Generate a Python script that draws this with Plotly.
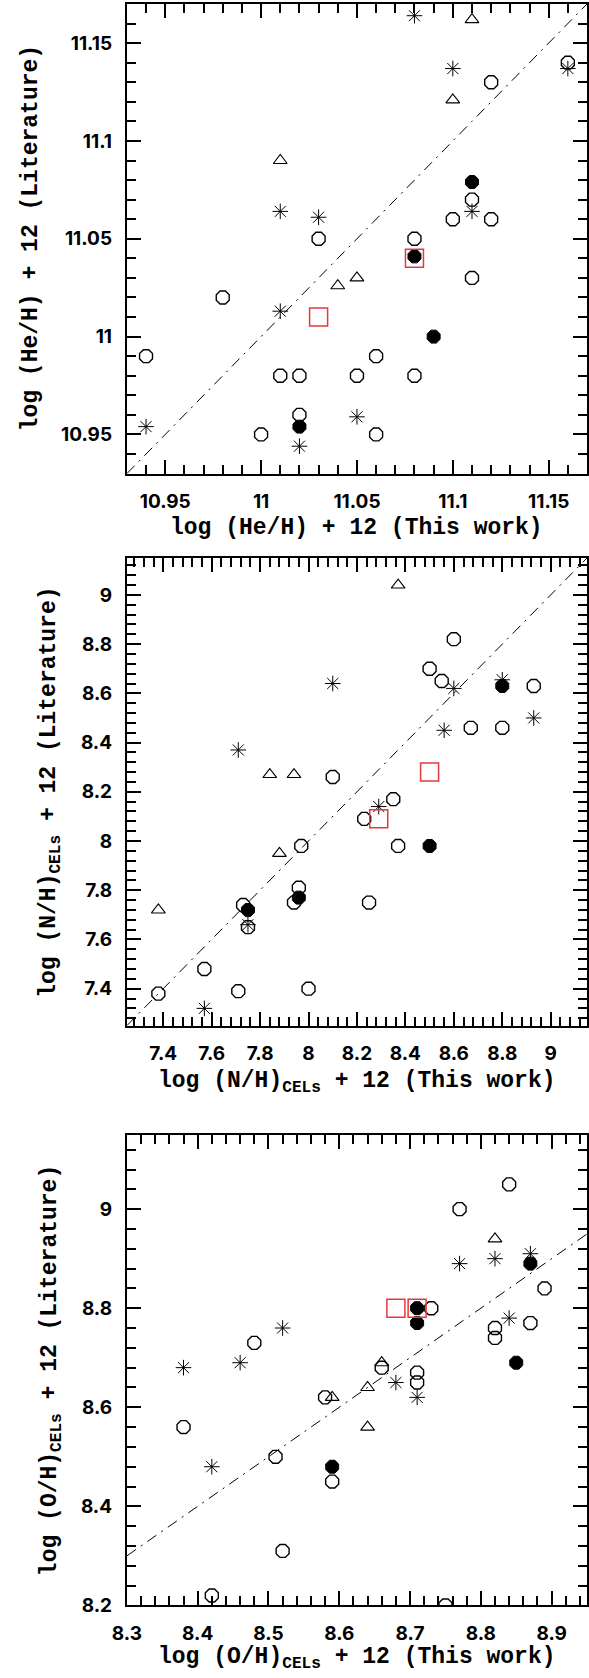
import plotly.graph_objects as go

# ---------------- Panel 1: helium ----------------
he_circle_x = [11.16, 11.12, 11.11, 11.10, 11.12, 11.03, 11.08, 11.11, 10.98, 10.94,
               11.06, 11.01, 11.02, 11.05, 11.08, 11.02, 11.00, 11.06]
he_circle_y = [11.14, 11.13, 11.07, 11.06, 11.06, 11.05, 11.05, 11.03, 11.02, 10.99,
               10.99, 10.98, 10.98, 10.98, 10.98, 10.96, 10.95, 10.95]
he_filled_x = [11.11, 11.08, 11.09, 11.02]
he_filled_y = [11.079, 11.041, 11.00, 10.954]
he_star_x = [11.08, 11.10, 11.16, 11.11, 11.01, 11.03, 11.01, 10.94, 11.05, 11.02]
he_star_y = [11.164, 11.137, 11.137, 11.064, 11.064, 11.061, 11.013, 10.954, 10.959, 10.944]
he_tri_x = [11.11, 11.10, 11.01, 11.04, 11.05]
he_tri_y = [11.162, 11.121, 11.09, 11.026, 11.03]
he_sq_x = [11.08, 11.03]
he_sq_y = [11.04, 11.01]
he_range = [10.93, 11.17]
he_ticks = [10.95, 11.0, 11.05, 11.1, 11.15]
he_ticktext = ["10.95", "11", "11.05", "11.1", "11.15"]

# ---------------- Panel 2: nitrogen ----------------
n_circle_x = [8.60, 8.50, 8.55, 8.93, 8.67, 8.80, 8.10, 8.35, 8.23, 8.37, 7.97,
              7.96, 7.94, 8.25, 7.73, 7.75, 7.57, 7.71, 8.00, 7.38]
n_circle_y = [8.82, 8.70, 8.65, 8.63, 8.46, 8.46, 8.26, 8.17, 8.09, 7.98, 7.98,
              7.81, 7.75, 7.75, 7.74, 7.65, 7.48, 7.39, 7.40, 7.38]
n_filled_x = [8.80, 8.50, 7.96, 7.75]
n_filled_y = [8.63, 7.98, 7.77, 7.72]
n_star_x = [8.60, 8.10, 8.80, 8.93, 8.56, 7.71, 8.29, 7.75, 7.57]
n_star_y = [8.62, 8.64, 8.655, 8.50, 8.45, 8.37, 8.14, 7.66, 7.32]
n_tri_x = [8.37, 7.84, 7.94, 7.88, 7.38]
n_tri_y = [9.04, 8.27, 8.27, 7.95, 7.72]
n_sq_x = [8.50, 8.29]
n_sq_y = [8.28, 8.09]
n_range = [7.25, 9.15]
n_ticks = [7.4, 7.6, 7.8, 8.0, 8.2, 8.4, 8.6, 8.8, 9.0]
n_ticktext = ["7.4", "7.6", "7.8", "8", "8.2", "8.4", "8.6", "8.8", "9"]

# ---------------- Panel 3: oxygen ----------------
o_circle_x = [8.84, 8.77, 8.89, 8.73, 8.87, 8.82, 8.82, 8.48, 8.66, 8.71, 8.71,
              8.58, 8.38, 8.51, 8.59, 8.52, 8.42, 8.75]
o_circle_y = [9.05, 9.00, 8.84, 8.80, 8.77, 8.76, 8.74, 8.73, 8.68, 8.67, 8.65,
              8.62, 8.56, 8.50, 8.45, 8.31, 8.22, 8.20]
o_filled_x = [8.87, 8.71, 8.71, 8.85, 8.59]
o_filled_y = [8.89, 8.80, 8.77, 8.69, 8.48]
o_star_x = [8.87, 8.82, 8.77, 8.84, 8.52, 8.46, 8.38, 8.68, 8.71, 8.42]
o_star_y = [8.91, 8.90, 8.89, 8.78, 8.76, 8.69, 8.68, 8.65, 8.62, 8.48]
o_tri_x = [8.82, 8.66, 8.64, 8.59, 8.64]
o_tri_y = [8.94, 8.69, 8.64, 8.62, 8.56]
o_sq_x = [8.68, 8.71]
o_sq_y = [8.80, 8.80]
o_xrange = [8.3, 8.95]
o_yrange = [8.2, 9.15]
o_xticks = [8.3, 8.4, 8.5, 8.6, 8.7, 8.8, 8.9]
o_xticktext = ["8.3", "8.4", "8.5", "8.6", "8.7", "8.8", "8.9"]
o_yticks = [8.2, 8.4, 8.6, 8.8, 9.0]
o_yticktext = ["8.2", "8.4", "8.6", "8.8", "9"]

W, H = 589, 1678
RED = "#e8383d"

fig = go.Figure()

panels = [
    dict(circ=(he_circle_x, he_circle_y), fill=(he_filled_x, he_filled_y),
         star=(he_star_x, he_star_y), tri=(he_tri_x, he_tri_y), sq=(he_sq_x, he_sq_y),
         diag=he_range),
    dict(circ=(n_circle_x, n_circle_y), fill=(n_filled_x, n_filled_y),
         star=(n_star_x, n_star_y), tri=(n_tri_x, n_tri_y), sq=(n_sq_x, n_sq_y),
         diag=n_range),
    dict(circ=(o_circle_x, o_circle_y), fill=(o_filled_x, o_filled_y),
         star=(o_star_x, o_star_y), tri=(o_tri_x, o_tri_y), sq=(o_sq_x, o_sq_y),
         diag=[max(o_xrange[0], o_yrange[0]), min(o_xrange[1], o_yrange[1])]),
]

for i, p in enumerate(panels):
    xa = "x" if i == 0 else f"x{i + 1}"
    ya = "y" if i == 0 else f"y{i + 1}"
    # 1:1 relation
    fig.add_trace(go.Scatter(x=p["diag"], y=p["diag"], mode="lines",
                             line=dict(color="black", width=1, dash="11px,6px,2px,6px"),
                             xaxis=xa, yaxis=ya, hoverinfo="skip", showlegend=False))
    fig.add_trace(go.Scatter(x=p["circ"][0], y=p["circ"][1], mode="markers",
                             marker=dict(symbol="octagon-open", size=14, color="black",
                                         line=dict(width=1.4, color="black")),
                             xaxis=xa, yaxis=ya, showlegend=False))
    fig.add_trace(go.Scatter(x=p["fill"][0], y=p["fill"][1], mode="markers",
                             marker=dict(symbol="octagon", size=14, color="black",
                                         line=dict(width=1, color="black")),
                             xaxis=xa, yaxis=ya, showlegend=False))
    fig.add_trace(go.Scatter(x=p["star"][0], y=p["star"][1], mode="markers",
                             marker=dict(symbol="asterisk-open", size=13, color="black",
                                         line=dict(width=1, color="black")),
                             xaxis=xa, yaxis=ya, showlegend=False))
    fig.add_trace(go.Scatter(x=p["tri"][0], y=p["tri"][1], mode="markers",
                             marker=dict(symbol="triangle-up-open", size=12, color="black",
                                         line=dict(width=1.1, color="black")),
                             xaxis=xa, yaxis=ya, showlegend=False))
    fig.add_trace(go.Scatter(x=p["sq"][0], y=p["sq"][1], mode="markers",
                             marker=dict(symbol="square-open", size=18, color=RED,
                                         line=dict(width=1.5, color=RED)),
                             xaxis=xa, yaxis=ya, showlegend=False))

tick_font = dict(family="Inter", size=19, color="black", weight="bold")
title_font = dict(family="Liberation Mono", size=23, color="black", weight="bold")


def axis_style(rng, tickvals, ticktext, minor_dtick, domain, anchor, standoff):
    return dict(
        range=rng, domain=domain, anchor=anchor,
        tickmode="array", tickvals=tickvals, ticktext=ticktext,
        ticks="inside", ticklen=14, tickwidth=2, tickcolor="black",
        minor=dict(tickmode="linear", dtick=minor_dtick, tick0=tickvals[0],
                   ticks="inside", ticklen=9, tickwidth=1.5, tickcolor="black",
                   showgrid=False),
        showline=True, linewidth=2, linecolor="black", mirror="allticks",
        showgrid=False, zeroline=False, tickfont=tick_font,
        ticklabelstandoff=standoff,
    )


def ydom(top_px, bottom_px):
    return [1 - bottom_px / H, 1 - top_px / H]


xdom = [115 / W, 588 / W]
d1 = ydom(4, 477)
d2 = ydom(562, 1033)
d3 = ydom(1143, 1617)

fig.update_layout(
    width=W, height=H, margin=dict(l=0, r=0, t=0, b=0),
    paper_bgcolor="white", plot_bgcolor="white", showlegend=False,
    xaxis=axis_style(he_range, he_ticks, he_ticktext, 0.01, xdom, "y", 10),
    yaxis=axis_style(he_range, he_ticks, he_ticktext, 0.01, d1, "x", 9),
    xaxis2=axis_style(n_range, n_ticks, n_ticktext, 0.04, xdom, "y2", 10),
    yaxis2=axis_style(n_range, n_ticks, n_ticktext, 0.04, d2, "x2", 9),
    xaxis3=axis_style(o_xrange, o_xticks, o_xticktext, 0.02, xdom, "y3", 10),
    yaxis3=axis_style(o_yrange, o_yticks, o_yticktext, 0.04, d3, "x3", 9),
)

x_titles = [
    ("log (He/H) + 12 (This work)", 532),
    ("log (N/H)<sub>CELs</sub> + 12 (This work)", 1090),
    ("log (O/H)<sub>CELs</sub> + 12 (This work)", 1670),
]
y_titles = [
    ("log (He/H) + 12 (Literature)", 16, (4 + 477) / 2),
    ("log (N/H)<sub>CELs</sub> + 12 (Literature)", 37, (562 + 1033) / 2),
    ("log (O/H)<sub>CELs</sub> + 12 (Literature)", 37, (1143 + 1617) / 2),
]
xc = (115 + 588) / 2
for text, py in x_titles:
    fig.add_annotation(text=text, xref="paper", yref="paper", x=xc / W, y=1 - py / H,
                       xanchor="center", yanchor="middle", showarrow=False, font=title_font)
for text, px, py in y_titles:
    fig.add_annotation(text=text, xref="paper", yref="paper", x=px / W, y=1 - py / H,
                       xanchor="center", yanchor="middle", textangle=-90,
                       showarrow=False, font=title_font)

fig.write_html("out.html")
